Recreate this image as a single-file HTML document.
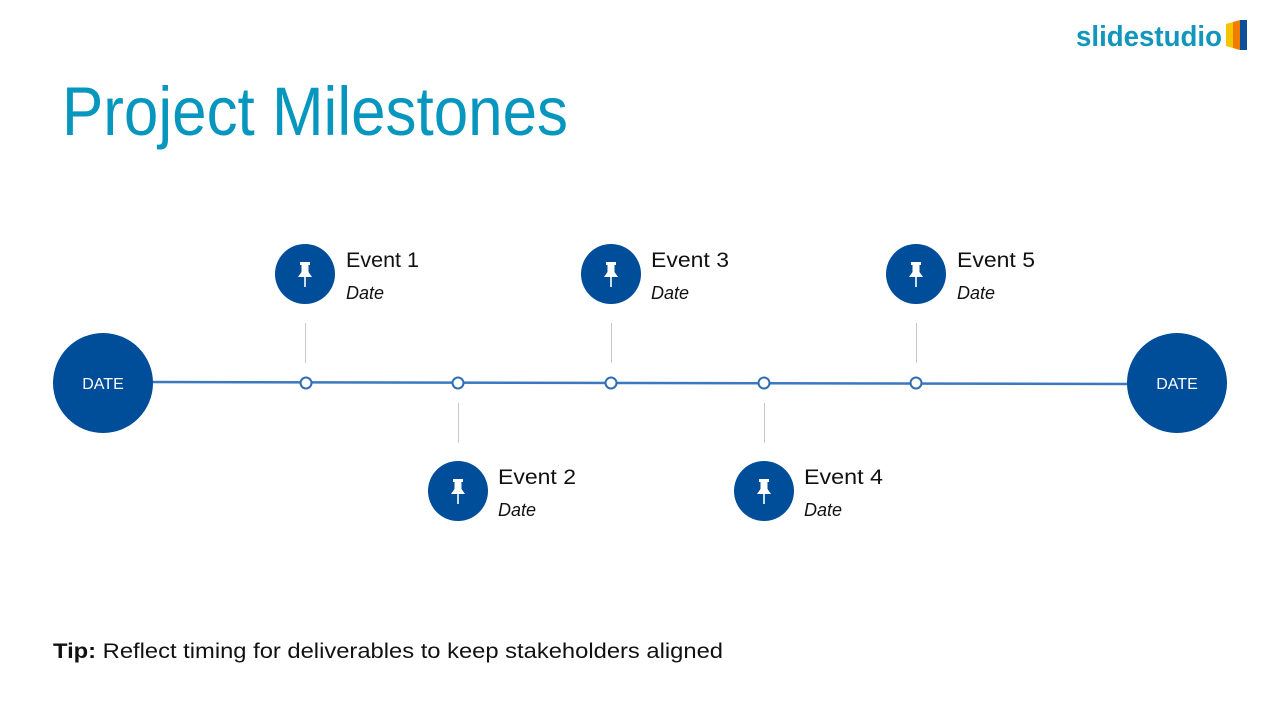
<!DOCTYPE html>
<html><head><meta charset="utf-8"><style>
html,body{margin:0;padding:0;background:#fff;}
svg{display:block;}
</style></head><body>
<svg width="1280" height="720" viewBox="0 0 1280 720" xmlns="http://www.w3.org/2000/svg" font-family="Liberation Sans, sans-serif">
<text x="1076" y="46" font-size="29" font-weight="bold" fill="#1296bb" textLength="146" lengthAdjust="spacingAndGlyphs">slidestudio</text>
<polygon points="1226,24 1233,22 1233,48 1226,46" fill="#f7c500"/>
<polygon points="1233,22 1240,20 1240,50 1233,48" fill="#f07d00"/>
<rect x="1240" y="20" width="7" height="30" fill="#0b4f9c"/>
<text x="62" y="135" font-size="69" fill="#0796bd" textLength="506" lengthAdjust="spacingAndGlyphs">Project Milestones</text>
<line x1="150" y1="382" x2="1130" y2="384" stroke="#3b78bf" stroke-width="2.5"/>
<g stroke="#c8c8c8" stroke-width="1">
<line x1="305.5" y1="323" x2="305.5" y2="363"/>
<line x1="611.5" y1="323" x2="611.5" y2="363"/>
<line x1="916.5" y1="323" x2="916.5" y2="363"/>
<line x1="458.5" y1="403" x2="458.5" y2="443"/>
<line x1="764.5" y1="403" x2="764.5" y2="443"/>
</g>
<g fill="#fff" stroke="#2f6db5" stroke-width="2">
<circle cx="306" cy="383" r="5.5"/><circle cx="458" cy="383" r="5.5"/><circle cx="611" cy="383" r="5.5"/><circle cx="764" cy="383" r="5.5"/><circle cx="916" cy="383" r="5.5"/>
</g>
<circle cx="103" cy="383" r="50" fill="#004d9a"/>
<circle cx="1177" cy="383" r="50" fill="#004d9a"/>
<text x="103" y="389" font-size="16" fill="#fff" text-anchor="middle">DATE</text>
<text x="1177" y="389" font-size="16" fill="#fff" text-anchor="middle">DATE</text>
<defs>
<g id="pin">
<circle cx="0" cy="0" r="30" fill="#004d9a"/>
<rect x="-5" y="-12" width="10" height="3" fill="#fff"/>
<rect x="-3.5" y="-10" width="7" height="9" fill="#fff"/>
<polygon points="-3.5,-2 3.5,-2 7,3 -7,3" fill="#fff"/>
<rect x="-0.8" y="3" width="1.6" height="10" fill="#fff"/>
</g>
</defs>
<use href="#pin" x="305" y="274"/>
<use href="#pin" x="611" y="274"/>
<use href="#pin" x="916" y="274"/>
<use href="#pin" x="458" y="491"/>
<use href="#pin" x="764" y="491"/>
<g font-size="21" fill="#111">
<text x="346" y="267" textLength="73" lengthAdjust="spacingAndGlyphs">Event 1</text>
<text x="651" y="267" textLength="78" lengthAdjust="spacingAndGlyphs">Event 3</text>
<text x="957" y="267" textLength="78" lengthAdjust="spacingAndGlyphs">Event 5</text>
<text x="498" y="484" textLength="78" lengthAdjust="spacingAndGlyphs">Event 2</text>
<text x="804" y="484" textLength="79" lengthAdjust="spacingAndGlyphs">Event 4</text>
</g>
<g font-size="18" font-style="italic" fill="#111">
<text x="346" y="299">Date</text>
<text x="651" y="299">Date</text>
<text x="957" y="299">Date</text>
<text x="498" y="516">Date</text>
<text x="804" y="516">Date</text>
</g>
<text x="53" y="658" font-size="21" fill="#111" textLength="670" lengthAdjust="spacingAndGlyphs"><tspan font-weight="bold">Tip:</tspan> Reflect timing for deliverables to keep stakeholders aligned</text>
</svg>
</body></html>
